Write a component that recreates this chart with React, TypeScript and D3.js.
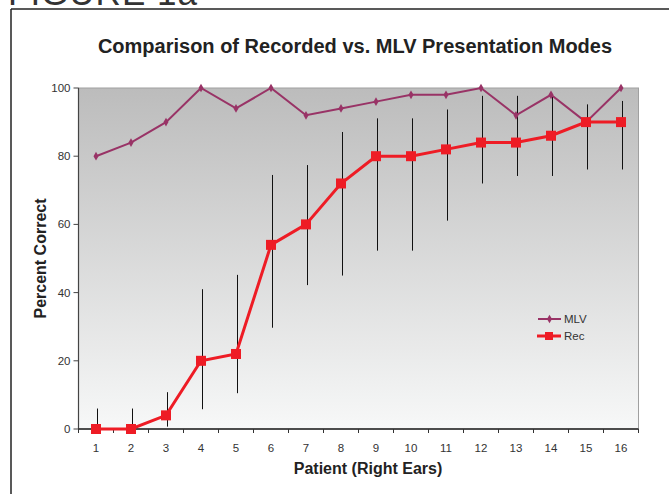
import React from 'react';
import * as d3 from 'd3';

const patients = ['1', '2', '3', '4', '5', '6', '7', '8', '9', '10', '11', '12', '13', '14', '15', '16'];
const mlv = [80, 84, 90, 100, 94, 100, 92, 94, 96, 98, 98, 100, 92, 98, 90, 100];
const rec = [0, 0, 4, 20, 22, 54, 60, 72, 80, 80, 82, 84, 84, 86, 90, 90];
const recLow = [0, 0, 0.7, 5.8, 10.5, 29.7, 42.2, 45, 52.3, 52.3, 61.1, 72, 74.2, 74.2, 76.1, 76.1];
const recHigh = [6, 6, 10.8, 41, 45.2, 74.5, 77.4, 87.1, 91.1, 91.1, 93.7, 97.7, 97.7, 98.2, 95.2, 96.2];
const yTicks = [0, 20, 40, 60, 80, 100];

const W = 669;
const H = 494;
const plot = { left: 78.5, right: 638.5, top: 88, bottom: 429 };
const MLV_COLOR = '#993366';
const REC_COLOR = '#ee1c25';
const FONT = 'Liberation Sans, Arial, sans-serif';

export default function App() {
  const x = d3.scaleBand().domain(patients).range([plot.left, plot.right]);
  const y = d3.scaleLinear().domain([0, 100]).range([plot.bottom, plot.top]);
  const cx = (i: number) => (x(patients[i]) as number) + x.bandwidth() / 2;

  const line = d3.line<number>().x((d, i) => cx(i)).y(d => y(d));
  const diamond = d3.symbol().type(d3.symbolDiamond).size(22)();

  return (
    <svg width={W} height={H} style={{ position: 'absolute', left: 0, top: 0 }} fontFamily={FONT}>
      <defs>
        <linearGradient id="bg" x1="0" y1="0" x2="0" y2="1">
          <stop offset="0" stopColor="#bcbcbc" />
          <stop offset="1" stopColor="#f7f8f8" />
        </linearGradient>
      </defs>
      <rect width={W} height={H} fill="#fff" />

      {/* figure label, cut off by the top edge as in the scan */}
      <text x={8} y={5} fontSize={35} fill="#333" letterSpacing={1}>FIGURE 1a</text>
      <line x1={11} y1={9} x2={W} y2={9} stroke="#222" strokeWidth={1.5} />
      <line x1={11} y1={9} x2={11} y2={H} stroke="#222" strokeWidth={1.5} />

      <text x={355} y={53} textAnchor="middle" fontSize={20} fontWeight="bold" fill="#222">
        Comparison of Recorded vs. MLV Presentation Modes
      </text>

      <rect x={plot.left} y={plot.top} width={plot.right - plot.left} height={plot.bottom - plot.top}
        fill="url(#bg)" stroke="#a0a0a0" strokeWidth={1} />

      {/* axes */}
      <line x1={plot.left} y1={plot.top} x2={plot.left} y2={plot.bottom} stroke="#444" strokeWidth={1.2} />
      <line x1={plot.left} y1={plot.bottom} x2={plot.right} y2={plot.bottom} stroke="#222" strokeWidth={1.5} />
      {yTicks.map(t => (
        <g key={t}>
          <line x1={plot.left - 5} x2={plot.left} y1={y(t)} y2={y(t)} stroke="#444" />
          <text x={plot.left - 8} y={y(t) + 4} textAnchor="end" fontSize={11.5} fill="#333">{t}</text>
        </g>
      ))}
      {patients.map((p, i) => (
        <g key={p}>
          <line x1={x(p) as number} x2={x(p) as number} y1={plot.bottom} y2={plot.bottom + 4} stroke="#333" />
          <text x={cx(i)} y={452} textAnchor="middle" fontSize={11.5} fill="#333">{p}</text>
        </g>
      ))}
      <line x1={plot.right} x2={plot.right} y1={plot.bottom} y2={plot.bottom + 4} stroke="#333" />

      <text x={368} y={474} textAnchor="middle" fontSize={16} fontWeight="bold" fill="#222">
        Patient (Right Ears)
      </text>
      <text transform={`translate(46,${(plot.top + plot.bottom) / 2}) rotate(-90)`} textAnchor="middle"
        fontSize={16} fontWeight="bold" fill="#222">Percent Correct</text>

      {/* error bars */}
      {recLow.map((lo, i) => (
        <line key={i} x1={cx(i) + 1.5} x2={cx(i) + 1.5} y1={y(lo)} y2={y(recHigh[i])} stroke="#111" strokeWidth={1} />
      ))}

      <path d={line(mlv) || ''} fill="none" stroke={MLV_COLOR} strokeWidth={2} />
      {mlv.map((v, i) => (
        <path key={i} d={diamond || ''} transform={`translate(${cx(i)},${y(v)})`} fill={MLV_COLOR} />
      ))}

      <path d={line(rec) || ''} fill="none" stroke={REC_COLOR} strokeWidth={3} />
      {rec.map((v, i) => (
        <rect key={i} x={cx(i) - 5} y={y(v) - 5} width={10} height={10} fill={REC_COLOR} />
      ))}

      {/* legend */}
      <line x1={538} x2={561} y1={319} y2={319} stroke={MLV_COLOR} strokeWidth={2} />
      <path d={diamond || ''} transform="translate(549.5,319)" fill={MLV_COLOR} />
      <text x={564} y={323} fontSize={11.5} fill="#333">MLV</text>
      <line x1={537} x2={561} y1={336} y2={336} stroke={REC_COLOR} strokeWidth={3} />
      <rect x={545} y={332} width={8} height={8} fill={REC_COLOR} />
      <text x={564} y={340} fontSize={11.5} fill="#333">Rec</text>
    </svg>
  );
}
